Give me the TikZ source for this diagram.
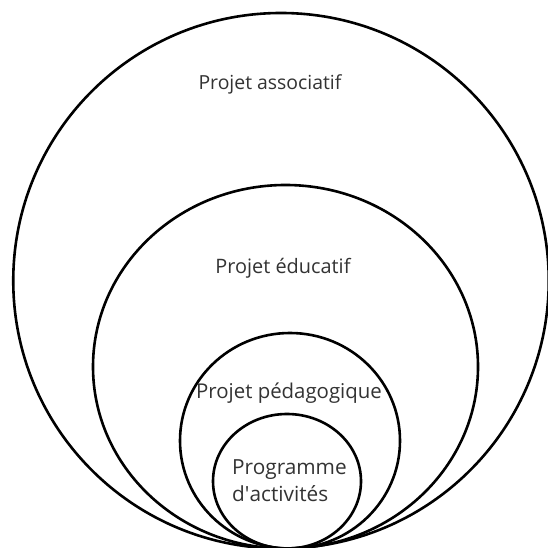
\documentclass[tikz,border=0pt]{standalone}
\usepackage{fontspec}
\setmainfont{Open Sans}
\begin{document}
\begin{tikzpicture}[x=1pt,y=1pt,
  ring/.style={draw=black,line width=2.6pt},
  lbl/.style={text=black!80,inner sep=0pt}]
\useasboundingbox (0,0) rectangle (548,548);
\clip (0,0) rectangle (548,548);
\fill[white] (0,0) rectangle (548,548);
\draw[ring] (281,267.25) ellipse [x radius=267.75, y radius=267.75];
\draw[ring] (285.5,181.25) ellipse [x radius=192.5, y radius=181.75];
\draw[ring] (290,107.25) ellipse [x radius=110, y radius=107.75];
\draw[ring] (287,66.75) ellipse [x radius=74, y radius=67.25];
\node[lbl,font=\fontsize{19.4}{27}\selectfont] (a) at (270,464) {Projet associatif};
\node[lbl,font=\fontsize{19.9}{27}\selectfont] (b) at (283,280) {Projet éducatif};
\node[lbl,font=\fontsize{20.4}{27}\selectfont] (c) at (289,155) {Projet pédagogique};
\node[lbl,font=\fontsize{20.8}{27}\selectfont,align=left,anchor=west] (d) at (232,67) {Programme\\d\textquotesingle activités};
\end{tikzpicture}
\end{document}
